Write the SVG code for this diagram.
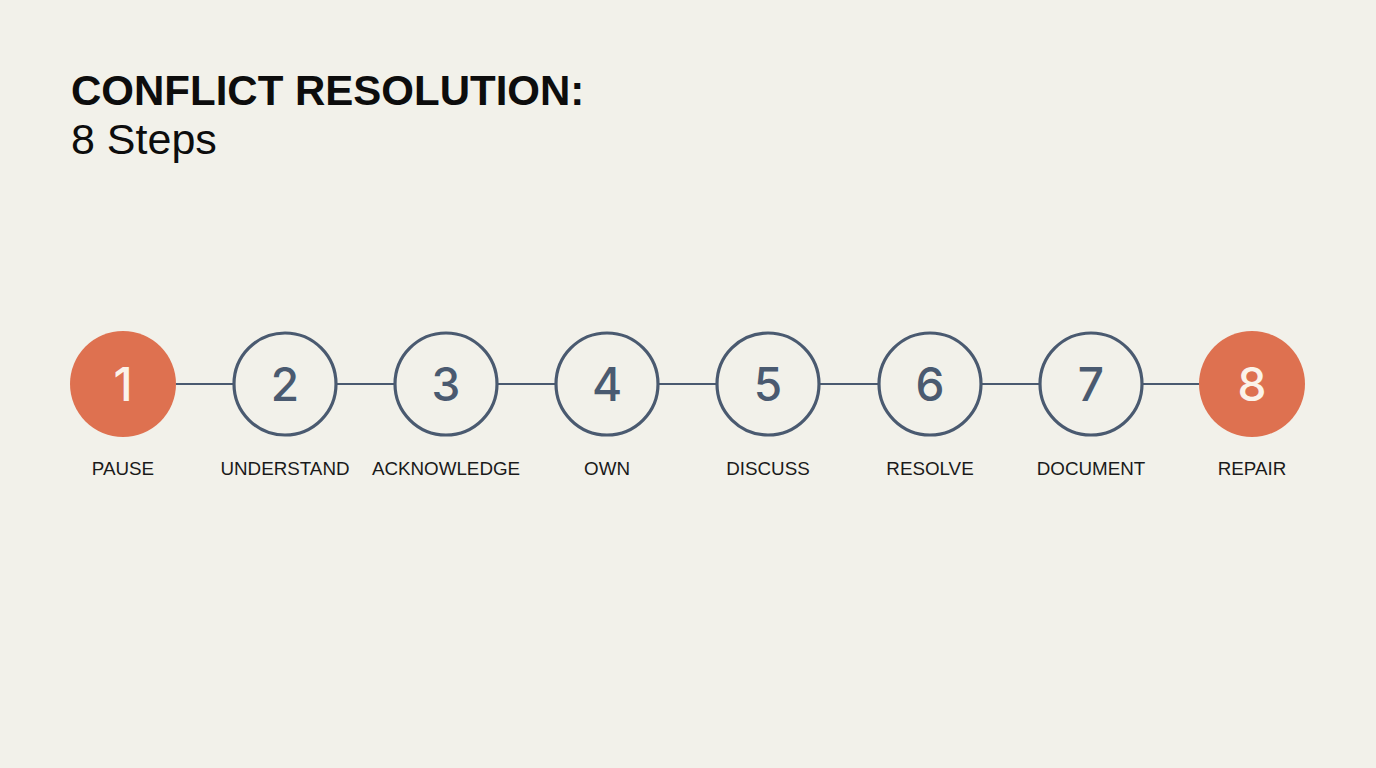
<svg xmlns="http://www.w3.org/2000/svg" width="1376" height="768" viewBox="0 0 1376 768">
<style>
.title{font-family:"Liberation Sans",Arial,sans-serif;font-weight:bold;font-size:42px;fill:#0d0d0d}
.sub{font-family:"Liberation Sans",Arial,sans-serif;font-size:43px;fill:#0d0d0d}
.num{font-family:Inter,"Liberation Sans",Arial,sans-serif;font-weight:500;font-size:46px;text-anchor:middle;fill:#4a5a70}
.numw{font-family:Inter,"Liberation Sans",Arial,sans-serif;font-weight:500;font-size:46px;text-anchor:middle;fill:#fbf3ea}
.lab{font-family:"Liberation Sans",Arial,sans-serif;font-size:18.8px;text-anchor:middle;fill:#1a1a1a}
.ring{fill:#f2f1ea;stroke:#4a5a70;stroke-width:3.2}
.fill{fill:#de7150}
.conn{stroke:#4a5a70;stroke-width:2;fill:none}
</style>
<rect width="1376" height="768" fill="#f2f1ea"/>
<text class="title" x="71" y="105">CONFLICT RESOLUTION:</text>
<text class="sub" x="71" y="154">8 Steps</text>
<g id="connectors">
<line class="conn" x1="176" y1="384" x2="233" y2="384"/>
<line class="conn" x1="337" y1="384" x2="394" y2="384"/>
<line class="conn" x1="498" y1="384" x2="555" y2="384"/>
<line class="conn" x1="659" y1="384" x2="716" y2="384"/>
<line class="conn" x1="820" y1="384" x2="878" y2="384"/>
<line class="conn" x1="982" y1="384" x2="1039" y2="384"/>
<line class="conn" x1="1143" y1="384" x2="1199" y2="384"/>
</g>
<g id="step1"><circle class="fill" cx="123" cy="384" r="53"/><text class="numw" x="123" y="401">1</text><text class="lab" x="123" y="475">PAUSE</text></g>
<g id="step2"><circle class="ring" cx="285" cy="384" r="51"/><text class="num" x="285" y="401">2</text><text class="lab" x="285" y="475">UNDERSTAND</text></g>
<g id="step3"><circle class="ring" cx="446" cy="384" r="51"/><text class="num" x="446" y="401">3</text><text class="lab" x="446" y="475">ACKNOWLEDGE</text></g>
<g id="step4"><circle class="ring" cx="607" cy="384" r="51"/><text class="num" x="607" y="401">4</text><text class="lab" x="607" y="475">OWN</text></g>
<g id="step5"><circle class="ring" cx="768" cy="384" r="51"/><text class="num" x="768" y="401">5</text><text class="lab" x="768" y="475">DISCUSS</text></g>
<g id="step6"><circle class="ring" cx="930" cy="384" r="51"/><text class="num" x="930" y="401">6</text><text class="lab" x="930" y="475">RESOLVE</text></g>
<g id="step7"><circle class="ring" cx="1091" cy="384" r="51"/><text class="num" x="1091" y="401">7</text><text class="lab" x="1091" y="475">DOCUMENT</text></g>
<g id="step8"><circle class="fill" cx="1252" cy="384" r="53"/><text class="numw" x="1252" y="401">8</text><text class="lab" x="1252" y="475">REPAIR</text></g>
</svg>
